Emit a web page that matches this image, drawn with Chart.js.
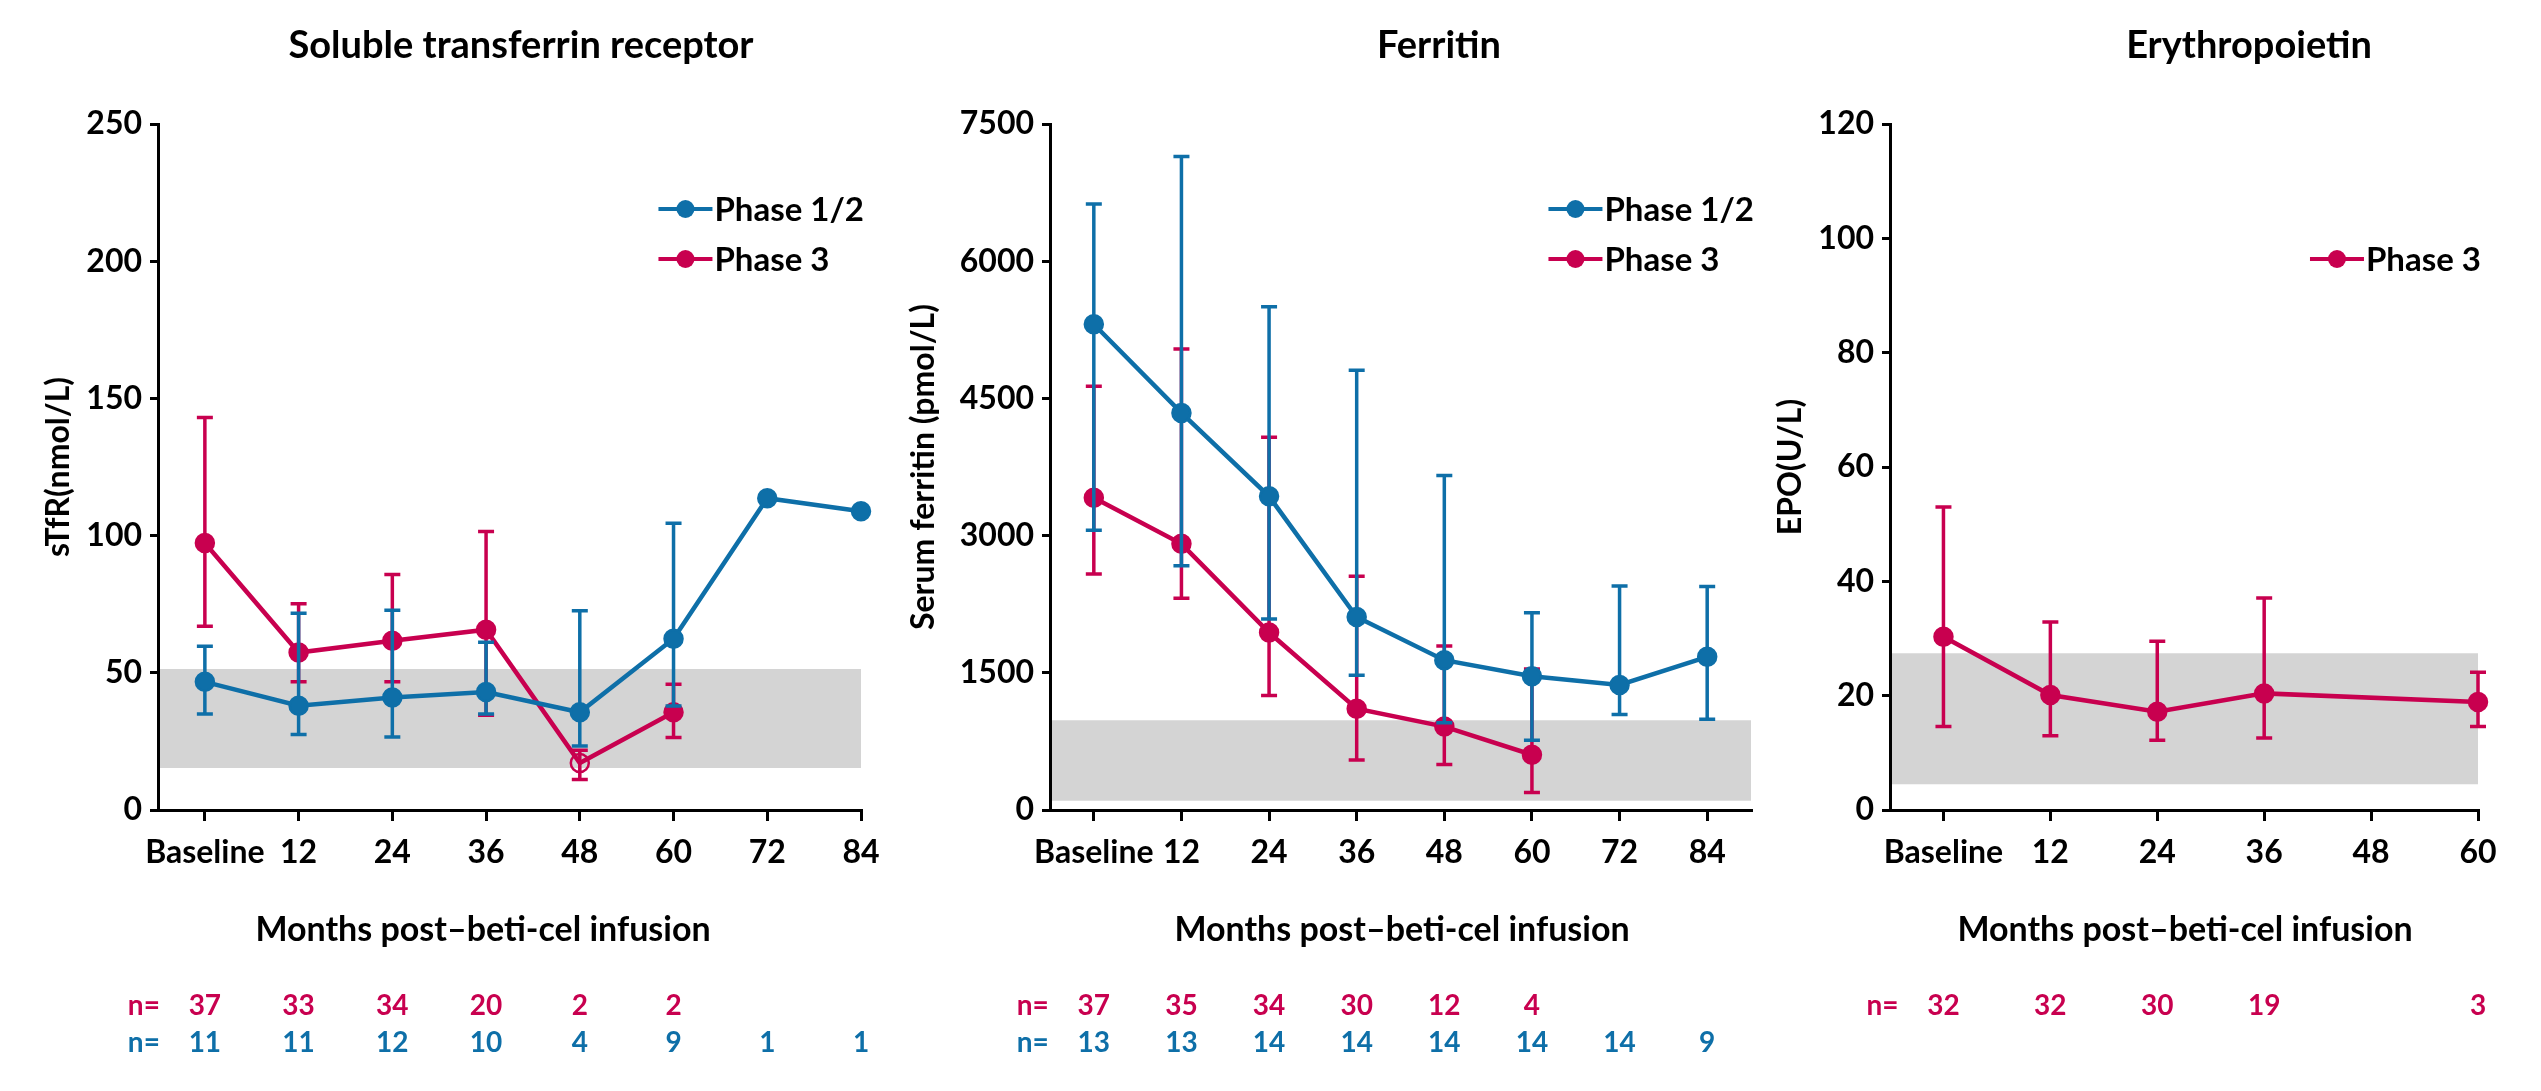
<!DOCTYPE html>
<html>
<head>
<meta charset="utf-8">
<script src="https://cdn.jsdelivr.net/npm/chart.js@4.4.0/dist/chart.umd.min.js"></script>
<style>
  html, body { margin: 0; padding: 0; background: #fff; }
  #wrap { position: relative; width: 2541px; height: 1091px; overflow: hidden; background: #fff; }
  canvas { position: absolute; top: 0; }
</style>
</head>
<body>
<div id="wrap">
  <canvas id="c1" width="900" height="1091" style="left:0px"></canvas>
  <canvas id="c2" width="900" height="1091" style="left:880px"></canvas>
  <canvas id="c3" width="791" height="1091" style="left:1750px"></canvas>
</div>
<script>
// x categories
const monthLabels = ["Baseline", "12", "24", "36", "48", "60", "72", "84"];
const epoLabels = ["Baseline", "12", "24", "36", "48", "60"];

// soluble transferrin receptor (nmol/L)
const stfrPh12 = [46.7, 38, 41, 43, 35.6, 62.4, 113.6, 108.9];
const stfrPh12Lo = [35, 27.5, 26.6, 35, 23.3, 37.9, null, null];
const stfrPh12Hi = [59.7, 71.7, 72.8, 61.1, 72.6, 104.5, null, null];
const stfrPh3 = [97.3, 57.4, 61.7, 65.7, 17.1, 35.6];
const stfrPh3Lo = [67, 46.7, 46.7, 34.5, 11.1, 26.4];
const stfrPh3Hi = [143, 75.2, 85.8, 101.5, 21.8, 45.8];
const stfrNormal = [15.3, 51.4];
const stfrNPh12 = [11, 11, 12, 10, 4, 9, 1, 1];
const stfrNPh3 = [37, 33, 34, 20, 2, 2];

// serum ferritin (pmol/L)
const ferPh12 = [5311, 4341, 3429, 2110, 1638, 1463, 1367, 1675];
const ferPh12Lo = [3058, 2671, 2088, 1473, 954, 763, 1044, 991];
const ferPh12Hi = [6625, 7145, 5502, 4807, 3657, 2157, 2449, 2443];
const ferPh3 = [3413, 2910, 1940, 1108, 912, 604];
const ferPh3Lo = [2581, 2316, 1251, 546, 498, 191];
const ferPh3Hi = [4632, 5041, 4076, 2555, 1792, 1542];
const ferNormal = [101, 981];
const ferNPh12 = [13, 13, 14, 14, 14, 14, 14, 9];
const ferNPh3 = [37, 35, 34, 30, 12, 4];

// erythropoietin (U/L)
const epoPh3 = [30.3, 20.1, 17.2, 20.4, null, 18.9];
const epoPh3Lo = [14.6, 13, 12.2, 12.6, null, 14.6];
const epoPh3Hi = [53, 32.9, 29.5, 37.1, null, 24.1];
const epoNormal = [4.5, 27.4];
const epoNPh3 = [32, 32, 30, 19, null, 3];

const blue = "#0E6FA8";
const red = "#C8004F";
const grey = "#D4D4D4";

Chart.defaults.font.family = "Lato";
Chart.defaults.font.weight = "bold";
Chart.defaults.color = "#000";

const panels = [
  {
    canvas: "c1", left: 0, axisLeft: 158, padRight: 39,
    title: "Soluble transferrin receptor", titleX: 521, xTitleX: 483,
    yTitle: "sTfR(nmol/L)", yTitleX: 59, yMax: 250, yStep: 50,
    xLabels: monthLabels, xMax: 7, normal: stfrNormal,
    series: [
      { label: "Phase 1/2", color: blue, y: stfrPh12, lo: stfrPh12Lo, hi: stfrPh12Hi, n: stfrNPh12, legendRow: 0, nRow: 1, open: [] },
      { label: "Phase 3", color: red, y: stfrPh3, lo: stfrPh3Lo, hi: stfrPh3Hi, n: stfrNPh3, legendRow: 1, nRow: 0, open: [4] }
    ]
  },
  {
    canvas: "c2", left: 880, axisLeft: 1050, padRight: 29,
    title: "Ferritin", titleX: 1439, xTitleX: 1402,
    yTitle: "Serum ferritin (pmol/L)", yTitleX: 924, yMax: 7500, yStep: 1500,
    xLabels: monthLabels, xMax: 7.5, normal: ferNormal,
    series: [
      { label: "Phase 1/2", color: blue, y: ferPh12, lo: ferPh12Lo, hi: ferPh12Hi, n: ferNPh12, legendRow: 0, nRow: 1, open: [] },
      { label: "Phase 3", color: red, y: ferPh3, lo: ferPh3Lo, hi: ferPh3Hi, n: ferNPh3, legendRow: 1, nRow: 0, open: [] }
    ]
  },
  {
    canvas: "c3", left: 1750, axisLeft: 1890, padRight: 63,
    title: "Erythropoietin", titleX: 2249, xTitleX: 2185,
    yTitle: "EPO(U/L)", yTitleX: 1791, yMax: 120, yStep: 20,
    xLabels: epoLabels, xMax: 5, normal: epoNormal,
    series: [
      { label: "Phase 3", color: red, y: epoPh3, lo: epoPh3Lo, hi: epoPh3Hi, n: epoNPh3, legendRow: 1, nRow: 0, open: [] }
    ]
  }
];

// error bars, titles, legend and n= rows
function panelExtras(p) {
  return {
    id: "panelExtras",
    beforeDatasetDraw(chart, args) {
      if (args.index === 0) return;
      const s = p.series[args.index - 1];
      const ctx = chart.ctx, xs = chart.scales.x, ys = chart.scales.y;
      ctx.save();
      ctx.strokeStyle = s.color;
      ctx.lineWidth = 3.5;
      s.lo.forEach((lo, i) => {
        const hi = s.hi[i];
        if (lo == null || hi == null) return;
        const px = xs.getPixelForValue(i);
        const y1 = ys.getPixelForValue(lo), y2 = ys.getPixelForValue(hi);
        ctx.beginPath();
        ctx.moveTo(px, y1); ctx.lineTo(px, y2);
        ctx.moveTo(px - 8, y1); ctx.lineTo(px + 8, y1);
        ctx.moveTo(px - 8, y2); ctx.lineTo(px + 8, y2);
        ctx.stroke();
      });
      ctx.restore();
    },
    afterDraw(chart) {
      const ctx = chart.ctx, area = chart.chartArea, xs = chart.scales.x;
      ctx.save();
      ctx.fillStyle = "#000";
      ctx.textAlign = "center";
      ctx.textBaseline = "alphabetic";
      ctx.font = "bold 38px Lato";
      ctx.fillText(p.title, p.titleX - p.left, 58);
      ctx.font = "bold 34px Lato";
      ctx.fillText("Months post\u2013beti-cel infusion", p.xTitleX - p.left, 941);

      // legend
      ctx.font = "bold 33px Lato";
      const tw = Math.max(...p.series.map(s => ctx.measureText(s.label).width));
      const lx = area.right + 3 - tw - 56;
      p.series.forEach(s => {
        const ly = area.top + 85 + 50 * s.legendRow;
        ctx.strokeStyle = s.color;
        ctx.lineWidth = 4;
        ctx.beginPath();
        ctx.moveTo(lx, ly); ctx.lineTo(lx + 54, ly);
        ctx.stroke();
        ctx.fillStyle = s.color;
        ctx.beginPath();
        ctx.arc(lx + 27, ly, 9, 0, Math.PI * 2);
        ctx.fill();
        ctx.fillStyle = "#000";
        ctx.textAlign = "left";
        ctx.textBaseline = "middle";
        ctx.fillText(s.label, lx + 56, ly + 1);
      });

      // n= rows
      ctx.font = "bold 28px Lato";
      ctx.textAlign = "center";
      ctx.textBaseline = "alphabetic";
      p.series.forEach(s => {
        const ny = 1015 + 37 * s.nRow;
        ctx.fillStyle = s.color;
        ctx.fillText("n=", xs.getPixelForValue(0) - 61, ny);
        s.n.forEach((v, i) => {
          if (v != null) ctx.fillText(String(v), xs.getPixelForValue(i), ny);
        });
      });
      ctx.restore();
    }
  };
}

function buildPanel(p) {
  const bandData = [{ x: -0.5, y: p.normal[1] }, { x: p.xMax, y: p.normal[1] }];
  const datasets = [{
    label: "normal",
    data: bandData,
    fill: { value: p.normal[0] },
    backgroundColor: grey,
    borderWidth: 0,
    pointRadius: 0,
    order: 10
  }];
  p.series.forEach(s => {
    datasets.push({
      label: s.label,
      data: s.y.map((v, i) => ({ x: i, y: v })),
      borderColor: s.color,
      backgroundColor: s.color,
      borderWidth: 4.5,
      pointRadius: 9,
      pointHoverRadius: 9,
      pointBorderWidth: 2.5,
      pointBorderColor: s.color,
      pointBackgroundColor: s.y.map((v, i) => s.open.includes(i) ? "rgba(0,0,0,0)" : s.color),
      spanGaps: true,
      tension: 0,
      clip: false,
      order: 0
    });
  });

  new Chart(document.getElementById(p.canvas), {
    type: "line",
    data: { datasets },
    options: {
      responsive: false,
      animation: false,
      events: [],
      layout: { padding: { top: 124, right: p.padRight, bottom: 0, left: 0 } },
      plugins: {
        legend: { display: false },
        title: { display: false },
        tooltip: { enabled: false }
      },
      scales: {
        x: {
          type: "linear",
          min: -0.5,
          max: p.xMax,
          afterBuildTicks: sc => { sc.ticks = p.xLabels.map((_, i) => ({ value: i })); },
          afterFit: sc => { sc.height = 281; },
          ticks: {
            callback: v => p.xLabels[v],
            autoSkip: false,
            maxRotation: 0,
            padding: 12,
            color: "#000",
            font: { size: 32, weight: "bold" }
          },
          grid: { drawOnChartArea: false, tickLength: 11, color: "#000", lineWidth: 3 },
          border: { color: "#000", width: 3, z: 1 }
        },
        y: {
          min: 0,
          max: p.yMax,
          afterFit: sc => { sc.width = p.axisLeft - p.left; },
          ticks: {
            stepSize: p.yStep,
            padding: 8,
            color: "#000",
            font: { size: 32, weight: "bold" },
            callback: v => String(v)
          },
          grid: { drawOnChartArea: false, tickLength: 8, color: "#000", lineWidth: 3 },
          border: { color: "#000", width: 3, z: 1 },
          title: {
            display: true,
            text: p.yTitle,
            color: "#000",
            font: { size: 32, weight: "bold" },
            padding: { top: p.yTitleX - p.left - 19.2, bottom: 0 }
          }
        }
      }
    },
    plugins: [panelExtras(p)]
  });
}

document.fonts.load("bold 32px Lato").then(() => panels.forEach(buildPanel), () => panels.forEach(buildPanel));
</script>
</body>
</html>
